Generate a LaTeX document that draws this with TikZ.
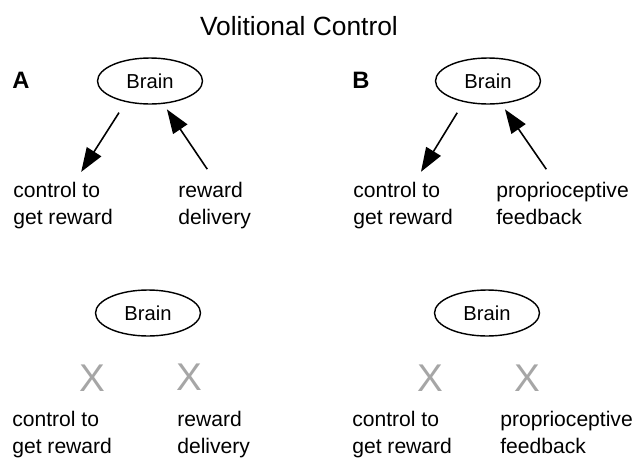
\documentclass[tikz,border=0pt]{standalone}
\usepackage{fontspec}
\setmainfont{Liberation Sans}
\usetikzlibrary{shapes,arrows.meta}

\tikzset{
  brain/.style={draw, ellipse, line width=0.8pt, minimum width=2.1cm, minimum height=0.92cm, inner sep=0pt, font=\fontsize{11.5}{13}\selectfont},
  lbl/.style={anchor=north west, align=left, inner sep=0pt, font=\fontsize{12}{15.4}\selectfont},
  panel/.style={anchor=west, inner sep=0pt, font=\fontsize{13.5}{15}\selectfont\bfseries},
  cross/.style={text=black!35, inner sep=0pt, font=\fontsize{22}{24}\selectfont},
  arr/.style={-{Triangle[length=4.8mm, width=3.4mm]}, line width=0.9pt}
}

\begin{document}
\begin{tikzpicture}[x=0.02cm, y=-0.02cm]
      \useasboundingbox (0, 0) rectangle (633, 457);

      % Title
      \node[font=\fontsize{15}{17}\selectfont] (title) at (299, 26) {Volitional Control};

      % Nodes, top row
      \node[panel] (pA) at (12, 80.5) {A};
      \node[brain] (brainA) at (150, 81) {Brain};
      \node[lbl] (ctrlA) at (13, 182) {control to\\get reward};
      \node[lbl] (rewA) at (178, 182) {reward\\delivery};

      \node[panel] (pB) at (352, 80.5) {B};
      \node[brain] (brainB) at (488, 81) {Brain};
      \node[lbl] (ctrlB) at (353, 182) {control to\\get reward};
      \node[lbl] (propB) at (496, 182) {proprioceptive\\feedback};

      % Nodes, bottom row
      \node[brain] (brainC) at (148, 313) {Brain};
      \node[cross] (xC1) at (92, 378) {X};
      \node[cross] (xC2) at (189, 377) {X};
      \node[lbl] (ctrlC) at (12, 411) {control to\\get reward};
      \node[lbl] (rewC) at (177, 411) {reward\\delivery};

      \node[brain] (brainD) at (487, 313) {Brain};
      \node[cross] (xD1) at (430, 378) {X};
      \node[cross] (xD2) at (527, 378) {X};
      \node[lbl] (ctrlD) at (352, 411) {control to\\get reward};
      \node[lbl] (propD) at (500, 411) {proprioceptive\\feedback};

      % Arrows
      \draw[arr, shorten <=0.25cm, shorten >=0.24cm] (brainA.221) -- (ctrlA.64);
      \draw[arr, shorten <=0.31cm, shorten >=0.13cm] (rewA.87) -- (brainA.300);
      \draw[arr, shorten <=0.25cm, shorten >=0.24cm] (brainB.221) -- (ctrlB.64);
      \draw[arr, shorten <=0.31cm, shorten >=0.13cm] (propB.109) -- (brainB.300);
    \end{tikzpicture}
\end{document}
